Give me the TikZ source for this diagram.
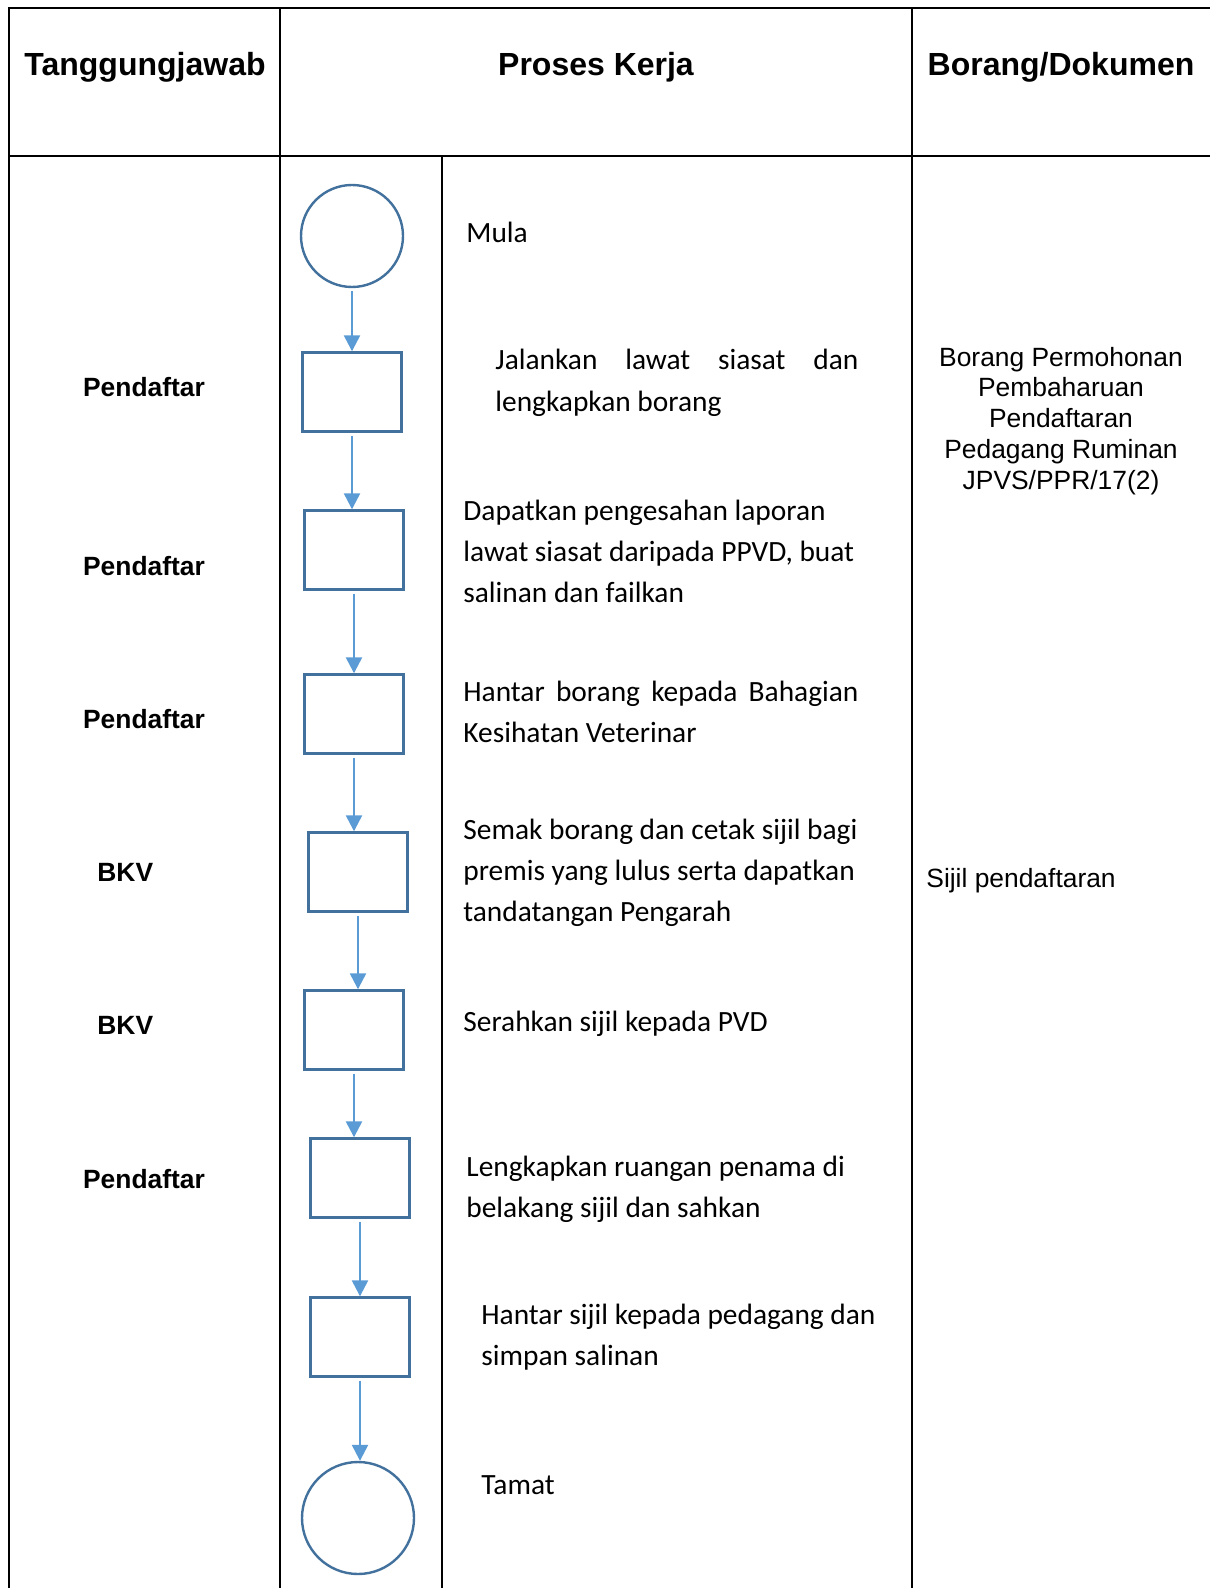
\documentclass[tikz,border=0pt]{standalone}
\usepackage{fontspec}
\setmainfont{Carlito}
\newfontfamily\arialfont{Liberation Sans}
\usetikzlibrary{arrows.meta}
\definecolor{shapeblue}{HTML}{41719C}
\definecolor{arrowblue}{HTML}{5B9BD5}
\tikzset{
  grid/.style={black, line width=1.2pt},
  startend/.style={circle, draw=shapeblue, fill=white, line width=1.2pt, inner sep=0pt},
  stepbox/.style={rectangle, draw=shapeblue, fill=white, line width=1.2pt, inner sep=0pt, minimum width=49.5pt, minimum height=39.5pt},
  flow/.style={arrowblue, line width=1.2pt, shorten <=1.5pt, -{Triangle[width=8pt,length=8pt]}},
  head/.style={font=\arialfont\bfseries\fontsize{16}{19}\selectfont, anchor=base, inner sep=0pt},
  who/.style={font=\arialfont\bfseries\fontsize{13.2}{16}\selectfont, inner sep=0pt},
  doc/.style={font=\arialfont\fontsize{13.2}{15.35}\selectfont, inner sep=0pt},
  steptext/.style={font=\fontsize{14.7}{20.5}\selectfont, align=left, anchor=base west, inner sep=0pt}
}
\begin{document}
\begin{tikzpicture}[x=0.5pt,y=-0.5pt]
  \useasboundingbox (0,0) rectangle (1210,1588);
  % table
  \draw[grid] (9,1588) -- (9,8) -- (1210,8);
  \draw[grid] (9,156) -- (1210,156);
  \draw[grid] (280,8) -- (280,1588);
  \draw[grid] (912,8) -- (912,1588);
  \draw[grid] (442,156) -- (442,1588);

  \node[head] (h1) at (145,76) {Tanggungjawab};
  \node[head] (h2) at (596,76) {Proses Kerja};
  \node[head] (h3) at (1061,76) {Borang/Dokumen};

  % flow chart
  \node[startend, minimum size=51pt] (mula) at (352,236) {};
  \node[stepbox] (b1) at (352,392) {};
  \node[stepbox] (b2) at (354,550) {};
  \node[stepbox] (b3) at (354,714) {};
  \node[stepbox] (b4) at (358,872) {};
  \node[stepbox] (b5) at (354,1030) {};
  \node[stepbox] (b6) at (360,1178) {};
  \node[stepbox] (b7) at (360,1337) {};
  \node[startend, minimum size=56pt] (tamat) at (358,1518) {};

  \foreach \a/\b in {mula/b1, b1/b2, b2/b3, b3/b4, b4/b5, b5/b6, b6/b7, b7/tamat}
    \draw[flow] (\a.south) -- (\a.south |- \b.north);

  % process texts (anchored at the last line)
  \node[steptext] (t0) at (466,243) {Mula};
  \node[steptext, font=\fontsize{14.7}{21.3}\selectfont] (t1) at (495,412) {\makebox[181.5pt][s]{Jalankan lawat siasat dan}\\lengkapkan borang};
  \node[steptext] (t2) at (463,602) {Dapatkan pengesahan laporan\\lawat siasat daripada PPVD, buat\\salinan dan failkan};
  \node[steptext] (t3) at (463,742) {\makebox[197.5pt][s]{Hantar borang kepada Bahagian}\\Kesihatan Veterinar};
  \node[steptext] (t4) at (463,921) {Semak borang dan cetak sijil bagi\\premis yang lulus serta dapatkan\\tandatangan Pengarah};
  \node[steptext] (t5) at (463,1031) {Serahkan sijil kepada PVD};
  \node[steptext] (t6) at (466,1217) {Lengkapkan ruangan penama di\\belakang sijil dan sahkan};
  \node[steptext] (t7) at (481,1365) {Hantar sijil kepada pedagang dan\\simpan salinan};
  \node[steptext] (t8) at (481,1494) {Tamat};

  % responsibility
  \node[who, anchor=base] (w1) at (144,397) {Pendaftar};
  \node[who, anchor=base] (w2) at (144,575) {Pendaftar};
  \node[who, anchor=base] (w3) at (144,728) {Pendaftar};
  \node[who, anchor=base west] (w4) at (97,881) {BKV};
  \node[who, anchor=base west] (w5) at (97,1034) {BKV};
  \node[who, anchor=base] (w6) at (144,1188) {Pendaftar};

  % documents
  \node[doc, align=center, anchor=base] (d1) at (1061,489) {Borang Permohonan\\Pembaharuan\\Pendaftaran\\Pedagang Ruminan\\JPVS/PPR/17(2)};
  \node[doc, anchor=base west] (d2) at (926,887) {Sijil pendaftaran};
\end{tikzpicture}
\end{document}
